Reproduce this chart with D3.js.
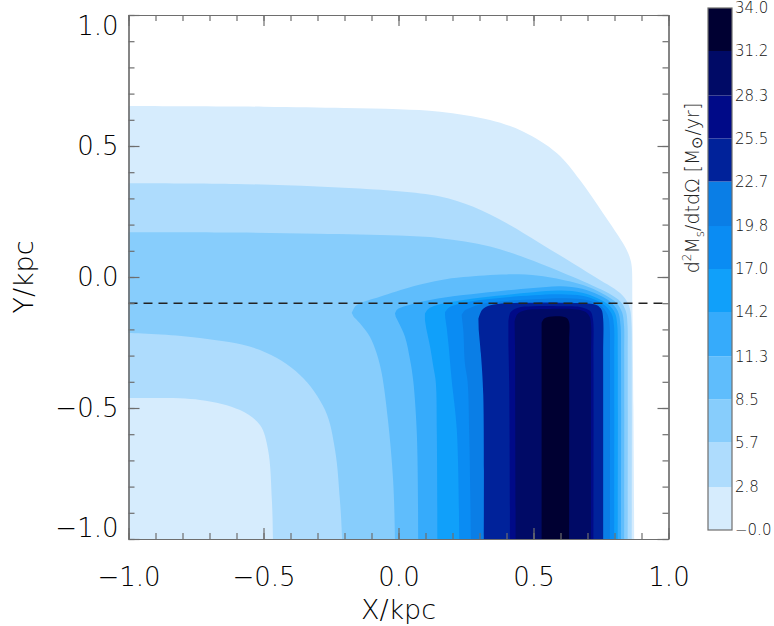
<!DOCTYPE html>
<html>
<head>
<meta charset="utf-8">
<title>Filled contours</title>
<style>
  body { margin: 0; background: #fff; }
  svg { display: block; font-family: "DejaVu Sans", sans-serif; font-weight: 200; }
  .axis path, .axis line { stroke: #6e6e6e; stroke-width: 1.2; }
  .axis text { font-family: "DejaVu Sans", sans-serif; font-weight: 200; font-size: 26px; fill: #000; }
  .title { font-size: 27px; fill: #000; }
  .cbar-label { font-size: 15px; fill: #111; }
  .cbar-title { font-size: 19px; fill: #222; }
</style>
</head>
<body>
<div id="chart"></div>
<script src="https://cdn.jsdelivr.net/npm/d3@7/dist/d3.min.js"></script>
<script>
(function (d3) {
    'use strict';

    // contour levels of the colour bar
    var levels = [0, 2.8, 5.7, 8.5, 11.3, 14.2, 17.0, 19.8, 22.7, 25.5, 28.3, 31.2, 34.0];
    var levelLabels = ['\u22120.0', '2.8', '5.7', '8.5', '11.3', '14.2', '17.0', '19.8',
                       '22.7', '25.5', '28.3', '31.2', '34.0'];
    var bandColors = ['#d6ecfd', '#aedcfd', '#87cdfc', '#5fbdfc', '#36abfb', '#10a0fa',
                      '#0a8cf3', '#0a7ee6', '#00229a', '#000a88', '#000a66', '#000032'];

    // outline (x, y in kpc) of the region above each level
    var edge0 = [[-1.05, 0.653], [-0.5, 0.650], [-0.2, 0.645], [0.0, 0.640], [0.154, 0.631],
        [0.339, 0.599], [0.461, 0.555], [0.586, 0.473], [0.672, 0.370], [0.757, 0.244],
        [0.839, 0.115], [0.858, 0.07], [0.864, 0.039], [0.866, -0.1], [0.870, -0.5],
        [0.873, -1.0], [0.873, -1.05], [-1.05, -1.05]];
    var edge1 = [[-1.05, 0.358], [-0.6, 0.355], [-0.3, 0.345], [0.0, 0.327], [0.154, 0.307],
        [0.277, 0.268], [0.401, 0.205], [0.524, 0.129], [0.647, 0.052], [0.746, -0.011],
        [0.80, -0.045], [0.838, -0.08], [0.857, -0.12], [0.863, -0.18], [0.864, -0.3],
        [0.864, -1.0], [0.864, -1.05], [-0.465, -1.05], [-0.465, -1.0], [-0.469, -0.851],
        [-0.483, -0.660], [-0.513, -0.565], [-0.587, -0.508], [-0.735, -0.469], [-1.0, -0.462],
        [-1.05, -0.462]];
    var edge2 = [[-1.05, 0.171], [-0.6, 0.170], [-0.3, 0.165], [0.0, 0.158], [0.154, 0.148],
        [0.339, 0.116], [0.524, 0.052], [0.647, 0.0], [0.72, -0.033], [0.78, -0.063],
        [0.823, -0.095], [0.842, -0.13], [0.848, -0.18], [0.849, -0.3], [0.849, -1.0],
        [0.849, -1.05], [-0.209, -1.05], [-0.209, -1.0], [-0.217, -0.851], [-0.235, -0.660],
        [-0.272, -0.508], [-0.365, -0.374], [-0.513, -0.279], [-0.735, -0.233], [-1.0, -0.214],
        [-1.05, -0.214]];
    var edge3 = [[-0.173, -0.137], [-0.160, -0.112], [-0.143, -0.100], [-0.069, -0.075],
        [0.055, -0.035], [0.154, -0.012], [0.24, 0.0], [0.401, 0.010], [0.52, 0.005],
        [0.647, -0.020], [0.72, -0.045], [0.77, -0.072], [0.808, -0.10], [0.828, -0.135],
        [0.835, -0.18], [0.836, -0.3], [0.836, -1.0], [0.836, -1.05], [-0.013, -1.05],
        [-0.013, -1.0], [-0.020, -0.775], [-0.039, -0.546], [-0.062, -0.368], [-0.081, -0.291],
        [-0.106, -0.228], [-0.143, -0.177], [-0.166, -0.152]];
    var edge4 = [[-0.013, -0.139], [-0.005, -0.124], [0.030, -0.110], [0.117, -0.088],
        [0.240, -0.069], [0.364, -0.055], [0.50, -0.042], [0.60, -0.035], [0.68, -0.045],
        [0.74, -0.068], [0.785, -0.095], [0.812, -0.13], [0.822, -0.18], [0.824, -0.3],
        [0.824, -1.0], [0.824, -1.05], [0.073, -1.05], [0.073, -1.0], [0.068, -0.6],
        [0.055, -0.40], [0.043, -0.317], [0.024, -0.228], [-0.001, -0.171], [-0.010, -0.153]];
    var edge5 = [[0.098, -0.139], [0.110, -0.122], [0.141, -0.108], [0.240, -0.088],
        [0.364, -0.072], [0.50, -0.058], [0.60, -0.052], [0.68, -0.060], [0.735, -0.080],
        [0.777, -0.105], [0.802, -0.138], [0.810, -0.18], [0.812, -0.3], [0.812, -1.0],
        [0.812, -1.05], [0.144, -1.05], [0.144, -1.0], [0.142, -0.6], [0.138, -0.40],
        [0.129, -0.342], [0.117, -0.266], [0.104, -0.202], [0.098, -0.165]];
    var edge6 = [[0.172, -0.135], [0.185, -0.118], [0.216, -0.105], [0.302, -0.088],
        [0.376, -0.080], [0.50, -0.070], [0.60, -0.066], [0.68, -0.072], [0.73, -0.088],
        [0.768, -0.112], [0.790, -0.142], [0.798, -0.185], [0.799, -0.3], [0.799, -1.0],
        [0.799, -1.05], [0.225, -1.05], [0.225, -1.0], [0.216, -0.584], [0.197, -0.393],
        [0.186, -0.266], [0.178, -0.190], [0.173, -0.155]];
    var edge7 = [[0.234, -0.145], [0.245, -0.128], [0.265, -0.118], [0.30, -0.105],
        [0.339, -0.097], [0.45, -0.088], [0.60, -0.081], [0.68, -0.085], [0.725, -0.097],
        [0.758, -0.118], [0.776, -0.148], [0.782, -0.19], [0.783, -0.3], [0.783, -1.0],
        [0.783, -1.05], [0.268, -1.05], [0.268, -1.0], [0.262, -0.6], [0.256, -0.40],
        [0.246, -0.329], [0.240, -0.202], [0.236, -0.165]];
    var edge8 = [[0.296, -0.160], [0.31, -0.125], [0.34, -0.108], [0.40, -0.100],
        [0.50, -0.098], [0.60, -0.098], [0.70, -0.101], [0.735, -0.108], [0.752, -0.125],
        [0.758, -0.16], [0.758, -0.3], [0.758, -1.0], [0.758, -1.05], [0.316, -1.05],
        [0.316, -1.0], [0.314, -0.45], [0.305, -0.291], [0.297, -0.20]];
    var edge9 = [[0.407, -0.17], [0.415, -0.135], [0.44, -0.118], [0.50, -0.112],
        [0.60, -0.112], [0.68, -0.116], [0.71, -0.13], [0.72, -0.16], [0.722, -0.3],
        [0.722, -1.0], [0.722, -1.05], [0.413, -1.05], [0.413, -1.0], [0.410, -0.4],
        [0.407, -0.25]];
    var edge10 = [[0.430, -0.17], [0.44, -0.142], [0.47, -0.127], [0.55, -0.122],
        [0.65, -0.123], [0.69, -0.132], [0.708, -0.152], [0.713, -0.18], [0.713, -0.3],
        [0.713, -1.0], [0.713, -1.05], [0.434, -1.05], [0.434, -1.0], [0.432, -0.3]];
    var edge11 = [[0.530, -0.175], [0.54, -0.158], [0.58, -0.150], [0.62, -0.155],
        [0.631, -0.170], [0.632, -0.25], [0.632, -1.0], [0.632, -1.05], [0.530, -1.05],
        [0.530, -1.0], [0.530, -0.25]];
    var edges = [edge0, edge1, edge2, edge3, edge4, edge5, edge6, edge7, edge8, edge9, edge10, edge11];

    var cutY = -0.1;   // dashed line

    var width = 774;
    var height = 626;

    var x = d3.scaleLinear().domain([-1, 1]).range([128.5, 668.5]);
    var y = d3.scaleLinear().domain([-1, 1]).range([539, 15]);
    var cy = d3.scaleLinear().domain([levels[0], levels[levels.length - 1]]).range([530, 8]);

    var svg = d3.select('#chart')
        .append('svg')
        .attr('width', width)
        .attr('height', height);

    svg.append('clipPath')
        .attr('id', 'plot-clip')
        .append('rect')
        .attr('x', x(-1))
        .attr('y', y(1))
        .attr('width', x(1) - x(-1))
        .attr('height', y(-1) - y(1));

    var line = d3.line()
        .x(function (d) { return x(d[0]); })
        .y(function (d) { return y(d[1]); })
        .curve(d3.curveCatmullRom.alpha(0.5));

    svg.append('g')
        .attr('clip-path', 'url(#plot-clip)')
        .selectAll('path')
        .data(edges)
        .enter()
        .append('path')
        .attr('d', function (d) { return line(d) + 'Z'; })
        .attr('fill', function (d, i) { return bandColors[i]; });

    svg.append('line')
        .attr('x1', x(-1))
        .attr('x2', x(1))
        .attr('y1', y(cutY))
        .attr('y2', y(cutY))
        .attr('stroke', '#222')
        .attr('stroke-width', 1.4)
        .attr('stroke-dasharray', '9,6');

    // axes, major + minor ticks on all four sides
    var fmt = d3.format('.1f');
    var xMajor = x.ticks(4), xMinor = x.ticks(20);
    var yMajor = y.ticks(4), yMinor = y.ticks(20);

    function addAxis(axis, tx, ty) {
        return svg.append('g')
            .attr('class', 'axis')
            .attr('transform', 'translate(' + tx + ',' + ty + ')')
            .call(axis);
    }

    addAxis(d3.axisBottom(x).tickValues(xMinor).tickSize(-6).tickSizeOuter(0).tickFormat(''), 0, y(-1));
    addAxis(d3.axisBottom(x).tickValues(xMajor).tickSize(-11).tickSizeOuter(0)
        .tickPadding(29).tickFormat(fmt), 0, y(-1));
    addAxis(d3.axisTop(x).tickValues(xMinor).tickSize(-6).tickSizeOuter(0).tickFormat(''), 0, y(1));
    addAxis(d3.axisTop(x).tickValues(xMajor).tickSize(-11).tickSizeOuter(0).tickFormat(''), 0, y(1));

    addAxis(d3.axisLeft(y).tickValues(yMinor).tickSize(-6).tickSizeOuter(0).tickFormat(''), x(-1), 0);
    var yAxisG = addAxis(d3.axisLeft(y).tickValues(yMajor).tickSize(-11).tickSizeOuter(0)
        .tickPadding(10).tickFormat(fmt), x(-1), 0);
    addAxis(d3.axisRight(y).tickValues(yMinor).tickSize(-6).tickSizeOuter(0).tickFormat(''), x(1), 0);
    addAxis(d3.axisRight(y).tickValues(yMajor).tickSize(-11).tickSizeOuter(0).tickFormat(''), x(1), 0);

    // keep the end labels inside the frame height
    yAxisG.selectAll('.tick text')
        .attr('y', function (d) {
            if (d === 1) return 11;
            if (d === -1) return -11;
            return 0;
        });

    svg.append('text')
        .attr('class', 'title')
        .attr('x', (x(-1) + x(1)) / 2)
        .attr('y', 619)
        .attr('text-anchor', 'middle')
        .text('X/kpc');

    svg.append('text')
        .attr('class', 'title')
        .attr('transform', 'translate(33,' + y(0) + ') rotate(-90)')
        .attr('text-anchor', 'middle')
        .text('Y/kpc');

    // colour bar
    var bar = svg.append('g');
    bar.selectAll('rect')
        .data(bandColors)
        .enter()
        .append('rect')
        .attr('x', 708)
        .attr('width', 24)
        .attr('y', function (d, i) { return cy(levels[i + 1]); })
        .attr('height', function (d, i) { return cy(levels[i]) - cy(levels[i + 1]); })
        .attr('fill', function (d) { return d; });

    bar.append('rect')
        .attr('x', 708)
        .attr('y', cy(levels[levels.length - 1]))
        .attr('width', 24)
        .attr('height', cy(levels[0]) - cy(levels[levels.length - 1]))
        .attr('fill', 'none')
        .attr('stroke', '#6e6e6e')
        .attr('stroke-width', 1.2);

    bar.selectAll('.cbar-label')
        .data(levels)
        .enter()
        .append('text')
        .attr('class', 'cbar-label')
        .attr('x', 735)
        .attr('y', function (d) { return cy(d); })
        .attr('dy', '0.35em')
        .text(function (d, i) { return levelLabels[i]; });

    var ct = svg.append('text')
        .attr('class', 'cbar-title')
        .attr('transform', 'translate(699,188) rotate(-90)')
        .attr('text-anchor', 'middle');
    ct.append('tspan').text('d');
    ct.append('tspan').attr('font-size', '12px').attr('dy', -8).text('2');
    ct.append('tspan').attr('dy', 8).text('M');
    ct.append('tspan').attr('font-size', '12px').attr('dy', 5).text('s');
    ct.append('tspan').attr('dy', -5).text('/dtd\u03A9 [M');
    ct.append('tspan').attr('font-size', '15px').attr('dy', 3).text('\u2299');
    ct.append('tspan').attr('dy', -3).text('/yr]');

})(window.d3);
</script>
</body>
</html>
